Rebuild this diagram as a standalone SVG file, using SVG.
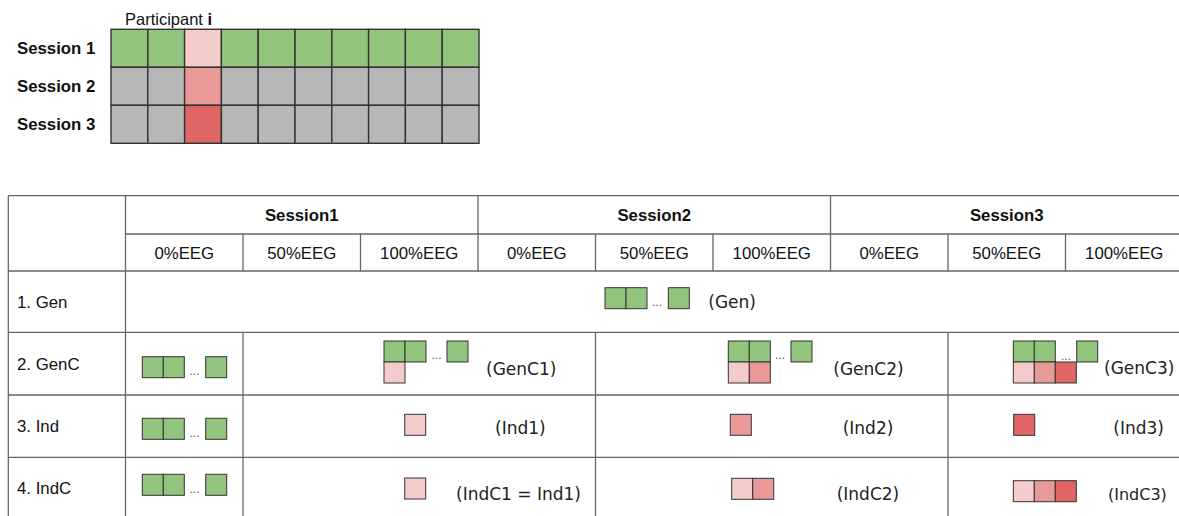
<svg xmlns="http://www.w3.org/2000/svg" width="1179" height="516" viewBox="0 0 1179 516">
<style>
.lbl{font-family:"Liberation Sans",Arial,sans-serif;font-size:16.8px;fill:#111}
.bold{font-weight:bold}
.mid{text-anchor:middle}
.par{font-family:"DejaVu Sans",Verdana,sans-serif;font-size:17px;fill:#222}
.dots{font-family:"Liberation Sans",Arial,sans-serif;font-size:12px;fill:#555}
.tl{stroke:#666;stroke-width:1.3;fill:none}
.gc{stroke:#333;stroke-width:1.4}
.sq{stroke:#333;stroke-width:1}
.g{fill:#93c47d}
.gr{fill:#b7b7b7}
.p1{fill:#f4cccc}
.p2{fill:#ea9999}
.p3{fill:#e06666}
</style>
<rect width="1179" height="516" fill="#fff"/>

<g id="participant-grid">
  <text class="lbl" x="125" y="25" style="font-size:16.5px">Participant <tspan class="bold">i</tspan></text>
  <text class="lbl bold" x="17" y="54">Session 1</text>
  <text class="lbl bold" x="17" y="92">Session 2</text>
  <text class="lbl bold" x="17" y="130">Session 3</text>
  <g id="grid-row1" class="gc">
    <rect class="g" x="111" y="29.3" width="36.8" height="38"/>
    <rect class="g" x="147.8" y="29.3" width="36.8" height="38"/>
    <rect class="p1" x="184.6" y="29.3" width="36.8" height="38"/>
    <rect class="g" x="221.4" y="29.3" width="36.8" height="38"/>
    <rect class="g" x="258.2" y="29.3" width="36.8" height="38"/>
    <rect class="g" x="295" y="29.3" width="36.8" height="38"/>
    <rect class="g" x="331.8" y="29.3" width="36.8" height="38"/>
    <rect class="g" x="368.6" y="29.3" width="36.8" height="38"/>
    <rect class="g" x="405.4" y="29.3" width="36.8" height="38"/>
    <rect class="g" x="442.2" y="29.3" width="36.8" height="38"/>
  </g>
  <g id="grid-row2" class="gc">
    <rect class="gr" x="111" y="67.3" width="36.8" height="38"/>
    <rect class="gr" x="147.8" y="67.3" width="36.8" height="38"/>
    <rect class="p2" x="184.6" y="67.3" width="36.8" height="38"/>
    <rect class="gr" x="221.4" y="67.3" width="36.8" height="38"/>
    <rect class="gr" x="258.2" y="67.3" width="36.8" height="38"/>
    <rect class="gr" x="295" y="67.3" width="36.8" height="38"/>
    <rect class="gr" x="331.8" y="67.3" width="36.8" height="38"/>
    <rect class="gr" x="368.6" y="67.3" width="36.8" height="38"/>
    <rect class="gr" x="405.4" y="67.3" width="36.8" height="38"/>
    <rect class="gr" x="442.2" y="67.3" width="36.8" height="38"/>
  </g>
  <g id="grid-row3" class="gc">
    <rect class="gr" x="111" y="105.3" width="36.8" height="38"/>
    <rect class="gr" x="147.8" y="105.3" width="36.8" height="38"/>
    <rect class="p3" x="184.6" y="105.3" width="36.8" height="38"/>
    <rect class="gr" x="221.4" y="105.3" width="36.8" height="38"/>
    <rect class="gr" x="258.2" y="105.3" width="36.8" height="38"/>
    <rect class="gr" x="295" y="105.3" width="36.8" height="38"/>
    <rect class="gr" x="331.8" y="105.3" width="36.8" height="38"/>
    <rect class="gr" x="368.6" y="105.3" width="36.8" height="38"/>
    <rect class="gr" x="405.4" y="105.3" width="36.8" height="38"/>
    <rect class="gr" x="442.2" y="105.3" width="36.8" height="38"/>
  </g>
</g>

<g id="table-lines" class="tl">
  <line x1="8.3" y1="195.7" x2="1179" y2="195.7"/>
  <line x1="125.5" y1="234" x2="1179" y2="234"/>
  <line x1="8.3" y1="271" x2="1179" y2="271"/>
  <line x1="8.3" y1="332.3" x2="1179" y2="332.3"/>
  <line x1="8.3" y1="395" x2="1179" y2="395"/>
  <line x1="8.3" y1="457.3" x2="1179" y2="457.3"/>
  <line x1="8.3" y1="195.7" x2="8.3" y2="516"/>
  <line x1="125.5" y1="195.7" x2="125.5" y2="516"/>
  <line x1="478" y1="195.7" x2="478" y2="271"/>
  <line x1="830.5" y1="195.7" x2="830.5" y2="271"/>
  <line x1="243" y1="234" x2="243" y2="271"/>
  <line x1="360.5" y1="234" x2="360.5" y2="271"/>
  <line x1="595.5" y1="234" x2="595.5" y2="271"/>
  <line x1="713" y1="234" x2="713" y2="271"/>
  <line x1="948" y1="234" x2="948" y2="271"/>
  <line x1="1065.5" y1="234" x2="1065.5" y2="271"/>
  <line x1="243" y1="332.3" x2="243" y2="516"/>
  <line x1="595.5" y1="332.3" x2="595.5" y2="516"/>
  <line x1="948" y1="332.3" x2="948" y2="516"/>
</g>

<g id="table-header">
  <text class="lbl bold mid" x="301.75" y="220.5">Session1</text>
  <text class="lbl bold mid" x="654.25" y="220.5">Session2</text>
  <text class="lbl bold mid" x="1006.75" y="220.5">Session3</text>
  <text class="lbl mid" x="184.25" y="258.5">0%EEG</text>
  <text class="lbl mid" x="301.75" y="258.5">50%EEG</text>
  <text class="lbl mid" x="419.25" y="258.5">100%EEG</text>
  <text class="lbl mid" x="536.75" y="258.5">0%EEG</text>
  <text class="lbl mid" x="654.25" y="258.5">50%EEG</text>
  <text class="lbl mid" x="771.75" y="258.5">100%EEG</text>
  <text class="lbl mid" x="889.25" y="258.5">0%EEG</text>
  <text class="lbl mid" x="1006.75" y="258.5">50%EEG</text>
  <text class="lbl mid" x="1124.25" y="258.5">100%EEG</text>
</g>

<g id="row-labels">
  <text class="lbl" x="17" y="307.5">1. Gen</text>
  <text class="lbl" x="17" y="369.5">2. GenC</text>
  <text class="lbl" x="17" y="432">3. Ind</text>
  <text class="lbl" x="17" y="494">4. IndC</text>
</g>

<g id="row1-gen">
  <g class="sq">
    <rect class="g" x="605" y="287.7" width="21" height="21"/>
    <rect class="g" x="626" y="287.7" width="21" height="21"/>
    <rect class="g" x="668.3" y="287.7" width="21" height="21"/>
  </g>
  <text class="dots" x="652" y="306">...</text>
  <text class="par" x="708.3" y="307.5">(Gen)</text>
</g>

<g id="row2-genc">
  <g id="genc-s1-0" class="sq">
    <rect class="g" x="142.3" y="356.7" width="21" height="21"/>
    <rect class="g" x="163.3" y="356.7" width="21" height="21"/>
    <rect class="g" x="205.7" y="356.7" width="21" height="21"/>
  </g>
  <text class="dots" x="189.5" y="375">...</text>
  <g id="genc1" class="sq">
    <rect class="g" x="384" y="341" width="21" height="21"/>
    <rect class="g" x="405" y="341" width="21" height="21"/>
    <rect class="g" x="447" y="341" width="21" height="21"/>
    <rect class="p1" x="384" y="362" width="21" height="21"/>
  </g>
  <text class="dots" x="431.5" y="359">...</text>
  <text class="par" x="486" y="375">(GenC1)</text>
  <g id="genc2" class="sq">
    <rect class="g" x="728.3" y="341" width="21" height="21"/>
    <rect class="g" x="749.3" y="341" width="21" height="21"/>
    <rect class="g" x="791" y="341" width="21" height="21"/>
    <rect class="p1" x="728.3" y="362" width="21" height="21"/>
    <rect class="p2" x="749.3" y="362" width="21" height="21"/>
  </g>
  <text class="dots" x="775" y="359">...</text>
  <text class="par" x="833.3" y="375">(GenC2)</text>
  <g id="genc3" class="sq">
    <rect class="g" x="1013.3" y="341" width="21" height="21"/>
    <rect class="g" x="1034.3" y="341" width="21" height="21"/>
    <rect class="g" x="1076.7" y="341" width="21" height="21"/>
    <rect class="p1" x="1013.3" y="362" width="21" height="21"/>
    <rect class="p2" x="1034.3" y="362" width="21" height="21"/>
    <rect class="p3" x="1055.3" y="362" width="21" height="21"/>
  </g>
  <text class="dots" x="1061" y="360">...</text>
  <text class="par" x="1104" y="374">(GenC3)</text>
</g>

<g id="row3-ind">
  <g class="sq">
    <rect class="g" x="142.3" y="418.3" width="21" height="21"/>
    <rect class="g" x="163.3" y="418.3" width="21" height="21"/>
    <rect class="g" x="205.7" y="418.3" width="21" height="21"/>
  </g>
  <text class="dots" x="189.5" y="436.5">...</text>
  <rect id="ind1" class="sq p1" x="404.7" y="414.3" width="21" height="21"/>
  <text class="par" x="495" y="433.5">(Ind1)</text>
  <rect id="ind2" class="sq p2" x="730.3" y="414.3" width="21" height="21"/>
  <text class="par" x="842.7" y="433.5">(Ind2)</text>
  <rect id="ind3" class="sq p3" x="1013.7" y="414.3" width="21" height="21"/>
  <text class="par" x="1113.3" y="433.5">(Ind3)</text>
</g>

<g id="row4-indc">
  <g class="sq">
    <rect class="g" x="142.3" y="474.3" width="21" height="21"/>
    <rect class="g" x="163.3" y="474.3" width="21" height="21"/>
    <rect class="g" x="205.7" y="474.3" width="21" height="21"/>
  </g>
  <text class="dots" x="189.5" y="492.5">...</text>
  <rect id="indc1" class="sq p1" x="404.7" y="478" width="21" height="21"/>
  <text class="par" x="456" y="500">(IndC1 = Ind1)</text>
  <g id="indc2" class="sq">
    <rect class="p1" x="731.7" y="478.3" width="21" height="21"/>
    <rect class="p2" x="752.7" y="478.3" width="21" height="21"/>
  </g>
  <text class="par" x="836.7" y="500">(IndC2)</text>
  <g id="indc3" class="sq">
    <rect class="p1" x="1013.3" y="480.7" width="21" height="21"/>
    <rect class="p2" x="1034.3" y="480.7" width="21" height="21"/>
    <rect class="p3" x="1055.3" y="480.7" width="21" height="21"/>
  </g>
  <text class="par" x="1108" y="500" style="font-size:16px">(IndC3)</text>
</g>
</svg>
